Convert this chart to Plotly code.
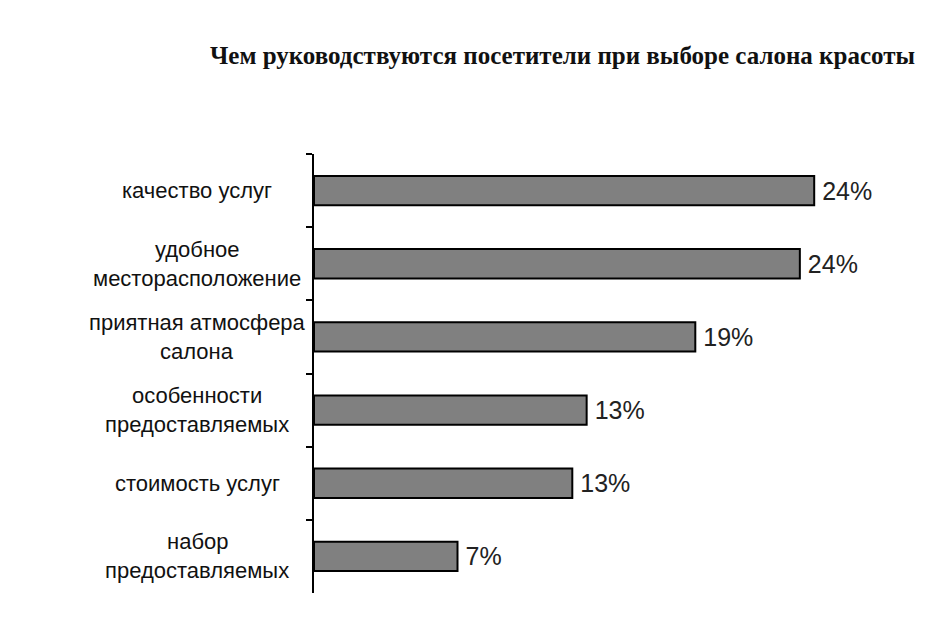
import plotly.graph_objects as go

# Data
categories = [
    "качество услуг",
    "удобное\nместорасположение",
    "приятная атмосфера\nсалона",
    "особенности\nпредоставляемых",
    "стоимость услуг",
    "набор\nпредоставляемых",
]
values = [24.4, 23.7, 18.6, 13.3, 12.6, 7.0]
value_labels = ["24%", "24%", "19%", "13%", "13%", "7%"]

title = "Чем руководствуются посетители при выборе салона красоты"

fig = go.Figure()
fig.add_trace(go.Bar(
    y=categories,
    x=values,
    orientation="h",
    width=0.4,
    marker=dict(color="#808080", line=dict(color="black", width=2)),
    text=value_labels,
    texttemplate="\u2009%{text}",
    textposition="outside",
    textfont=dict(family="Liberation Sans, Arial", size=25, color="#222222"),
    cliponaxis=False,
    hoverinfo="skip",
))

# category labels, centred line by line like the original
annotations = []
line_gap = 29
for cat in categories:
    lines = cat.split("\n")
    n = len(lines)
    for i, ln in enumerate(lines):
        annotations.append(dict(
            xref="paper", yref="y",
            x=0, y=cat,
            xshift=-117,
            yshift=((n - 1) / 2 - i) * line_gap,
            text=ln,
            showarrow=False,
            xanchor="center", yanchor="middle",
            font=dict(family="Liberation Sans, Arial", size=22, color="#111111"),
        ))

annotations.append(dict(
    xref="paper", yref="paper",
    x=0.4035, y=1.0,
    yshift=99,
    text="<b>" + title + "</b>",
    showarrow=False,
    xanchor="center", yanchor="middle",
    font=dict(family="Liberation Serif, Times New Roman", size=25, color="#111111"),
))

fig.update_layout(
    width=950, height=620,
    margin=dict(l=306, r=29, t=146, b=35),
    paper_bgcolor="white",
    plot_bgcolor="white",
    showlegend=False,
    annotations=annotations,
    xaxis=dict(
        range=[0, 30],
        showgrid=False, zeroline=False,
        showline=False, showticklabels=False, ticks="",
    ),
    yaxis=dict(
        categoryorder="array",
        categoryarray=categories,
        autorange="reversed",
        showline=True, linecolor="black", linewidth=2,
        ticks="outside", ticklen=6, tickwidth=2, tickcolor="black",
        tickson="boundaries",
        showticklabels=False,
        showgrid=False, zeroline=False,
    ),
)

fig.write_html("out.html")
